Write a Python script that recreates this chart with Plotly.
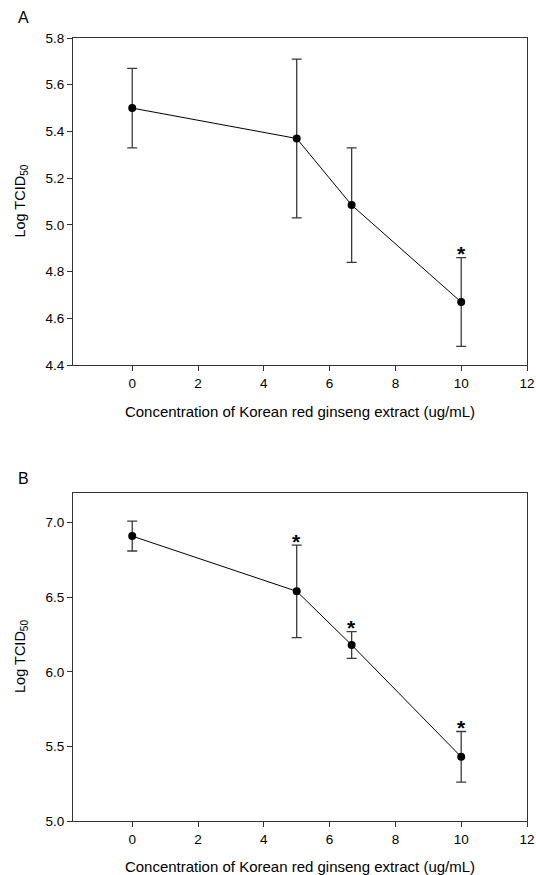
import plotly.graph_objects as go
from plotly.subplots import make_subplots

conc = [0, 5, 6.67, 10]

# Panel A
a_mean = [5.50, 5.37, 5.085, 4.67]
a_err = [0.17, 0.34, 0.245, 0.19]
a_sig = [False, False, False, True]

# Panel B
b_mean = [6.91, 6.54, 6.18, 5.43]
b_err = [0.10, 0.31, 0.09, 0.17]
b_sig = [False, True, True, True]

x_ticks = [0, 2, 4, 6, 8, 10, 12]
xtitle = "Concentration of Korean red ginseng extract (ug/mL)"
ytitle = "Log TCID<sub>50</sub>"

FONT = "Liberation Sans, Arial, sans-serif"

fig = make_subplots(rows=2, cols=1)
annots = []

def add_panel(row, mean, err, sig):
    fig.add_trace(go.Scatter(
        x=conc, y=mean, mode="lines+markers",
        line=dict(color="black", width=1),
        marker=dict(color="black", size=8),
        error_y=dict(type="data", array=err, visible=True,
                     color="#3a3a3a", thickness=1.3, width=5),
        showlegend=False, hoverinfo="skip"), row=row, col=1)
    xr = "x" if row == 1 else "x2"
    yr = "y" if row == 1 else "y2"
    for c, m, e, s in zip(conc, mean, err, sig):
        if s:
            annots.append(dict(text="<b>*</b>", x=c, y=m + e, xref=xr, yref=yr,
                               showarrow=False, xanchor="center", yanchor="middle",
                               yshift=4, font=dict(size=21, color="black", family=FONT)))

add_panel(1, a_mean, a_err, a_sig)
add_panel(2, b_mean, b_err, b_sig)

axis_common = dict(showline=True, linecolor="#333333", linewidth=1, mirror=True,
                   ticks="outside", ticklen=5, tickcolor="#333333", tickwidth=1,
                   showgrid=False, zeroline=False, automargin=False,
                   tickfont=dict(size=13.5, color="black", family=FONT))

for r in [1, 2]:
    fig.update_xaxes(range=[-1.8, 12], tickvals=x_ticks, ticklabelstandoff=1,
                     title=dict(text=xtitle, font=dict(size=15, color="black", family=FONT), standoff=16),
                     row=r, col=1, **axis_common)
fig.update_yaxes(range=[4.4, 5.8], dtick=0.2, tick0=4.4, tickformat=".1f", row=1, col=1, **axis_common)
fig.update_yaxes(range=[5.0, 7.2], tickvals=[5.0, 5.5, 6.0, 6.5, 7.0], tickformat=".1f", row=2, col=1, **axis_common)

fig.update_layout(
    yaxis=dict(domain=[0.5822, 1.0]),
    yaxis2=dict(domain=[0.0, 0.4191]),
    width=536, height=875,
    margin=dict(l=73, r=9, t=38, b=54),
    paper_bgcolor="white", plot_bgcolor="white",
    font=dict(family=FONT, color="black"),
)

annots += [
    dict(text="A", x=-0.108, y=1.026, xref="paper", yref="paper", showarrow=False,
         font=dict(size=16, family=FONT, color="black"), xanchor="center", yanchor="middle"),
    dict(text="B", x=-0.108, y=0.4191 + 0.018, xref="paper", yref="paper", showarrow=False,
         font=dict(size=16, family=FONT, color="black"), xanchor="center", yanchor="middle"),
    dict(text=ytitle, x=-0.1145, y=(0.5822 + 1.0) / 2, xref="paper", yref="paper", showarrow=False,
         textangle=-90, font=dict(size=14.5, family=FONT, color="black"), xanchor="center", yanchor="middle"),
    dict(text=ytitle, x=-0.1145, y=0.4191 / 2, xref="paper", yref="paper", showarrow=False,
         textangle=-90, font=dict(size=14.5, family=FONT, color="black"), xanchor="center", yanchor="middle"),
]
fig.update_layout(annotations=annots)

fig.write_html("out.html", config={"displayModeBar": False},
               post_script="document.body.style.margin='0';document.body.style.overflow='hidden';")
